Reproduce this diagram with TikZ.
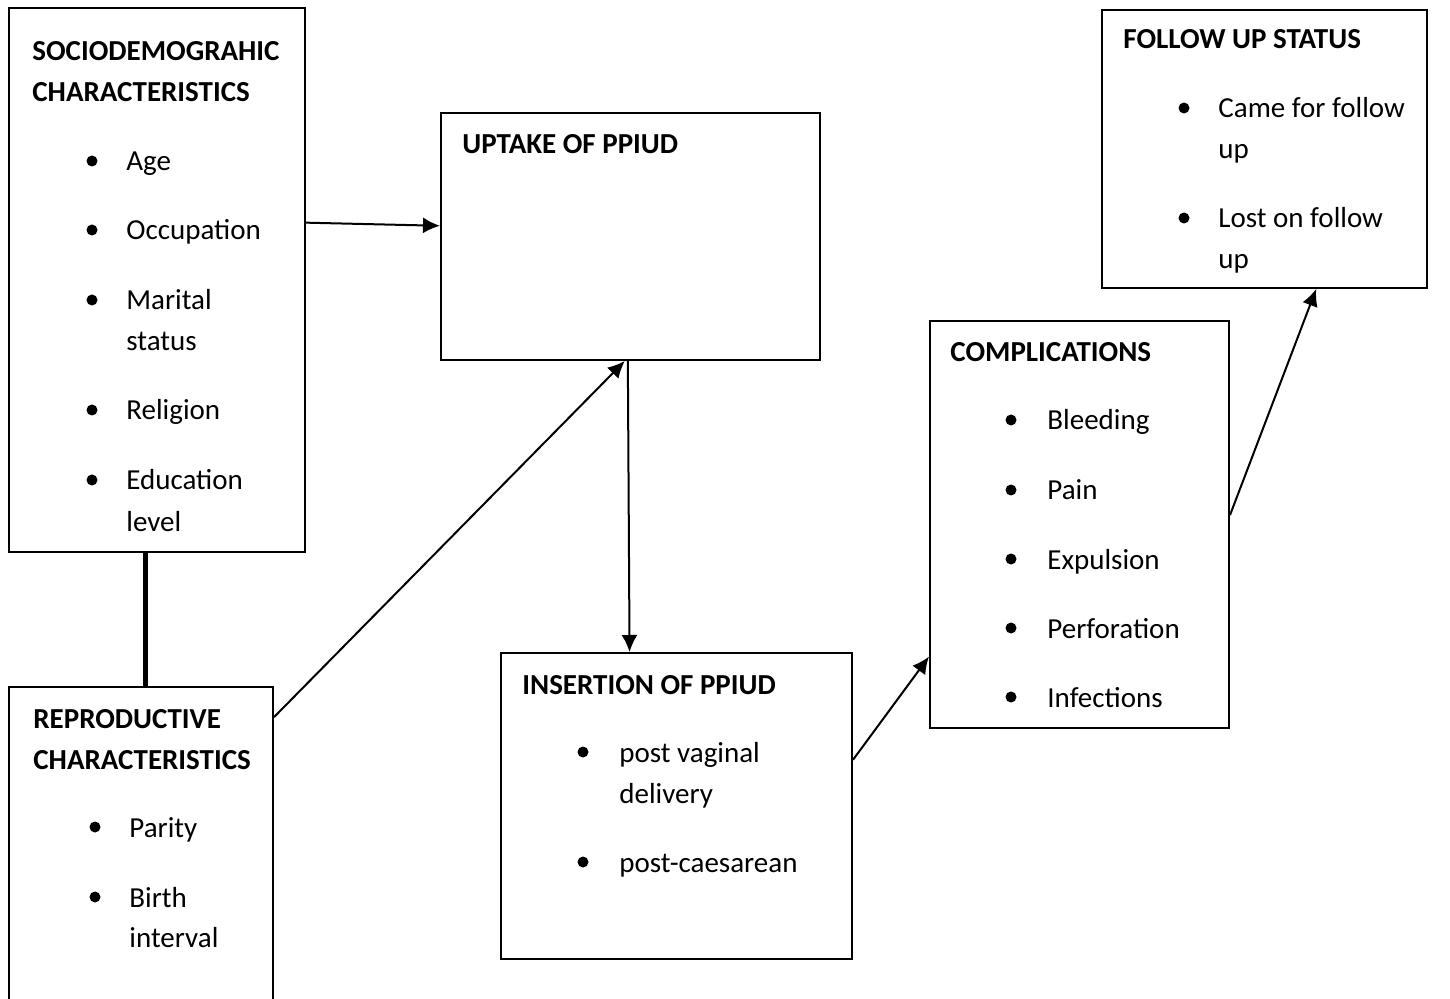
\documentclass[tikz,border=0pt]{standalone}
\usepackage{fontspec}
\setmainfont{Carlito}
\usetikzlibrary{calc,fit,arrows.meta}
% one unit = one pixel of the reference
\tikzset{x=0.5pt,y=-0.5pt,
  box/.style={draw,line width=1pt,inner sep=0pt},
  txt/.style={anchor=base west,inner sep=0pt,font=\fontsize{14.5}{20}\selectfont},
  head/.style={txt,font=\fontsize{14.5}{20}\selectfont\bfseries},
  arr/.style={line width=1pt,-{Latex[length=8.5pt,width=8pt]}},
  link/.style={line width=2.5pt}}
\def\bul(#1,#2){\fill (#1,#2) circle (5.5);}

\begin{document}
\begin{tikzpicture}
		%%%%% START %%%%%
		\useasboundingbox (0,0) rectangle (1450,999);
		\clip (0,0) rectangle (1450,999);
		
		\node[box,fit={(9,8)(305,552)}] (socio) {};
		\node[box,fit={(441,113)(820,360)}] (uptake) {};
		\node[box,fit={(1102,10)(1427,288)}] (follow) {};
		\node[box,fit={(930,321)(1229,728)}] (compl) {};
		\node[box,fit={(501,653)(852,959)}] (insert) {};
		\node[box,fit={(9,687)(273,1020)}] (repro) {};
		
		% sociodemographic
		\node[head] (socio1) at (32,61) {SOCIODEMOGRAHIC};
		\node[head] (socio2) at (32,102) {CHARACTERISTICS};
		\bul(92,161) \node[txt] (age) at (126,171) {Age};
		\bul(92,230) \node[txt] (occ) at (126,240) {Occupation};
		\bul(92,300) \node[txt] (mar1) at (126,310) {Marital};
		\node[txt] (mar2) at (126,351) {status};
		\bul(92,410) \node[txt] (rel) at (126,420) {Religion};
		\bul(92,480) \node[txt] (edu1) at (126,490) {Education};
		\node[txt] (edu2) at (126,531) {level};
		
		% uptake
		\node[head] (uptake1) at (462,154) {UPTAKE OF PPIUD};
		
		% follow up
		\node[head] (follow1) at (1123,49) {FOLLOW UP STATUS};
		\bul(1184,108) \node[txt] (came1) at (1218,118) {Came for follow};
		\node[txt] (came2) at (1218,159) {up};
		\bul(1184,218) \node[txt] (lost1) at (1218,228) {Lost on follow};
		\node[txt] (lost2) at (1218,269) {up};
		
		% complications
		\node[head] (compl1) at (950,362) {COMPLICATIONS};
		\bul(1011,420) \node[txt] (bleed) at (1047,430) {Bleeding};
		\bul(1011,490) \node[txt] (pain) at (1047,500) {Pain};
		\bul(1011,559) \node[txt] (expul) at (1047,569) {Expulsion};
		\bul(1011,628) \node[txt] (perf) at (1047,638) {Perforation};
		\bul(1011,697) \node[txt] (infec) at (1047,707) {Infections};
		
		% insertion
		\node[head] (insert1) at (522,694) {INSERTION OF PPIUD};
		\bul(583,752) \node[txt] (vag1) at (619,762) {post vaginal};
		\node[txt] (vag2) at (619,803) {delivery};
		\bul(583,862) \node[txt] (caes) at (619,872) {post-caesarean};
		
		% reproductive
		\node[head] (repro1) at (33,728) {REPRODUCTIVE};
		\node[head] (repro2) at (33,769) {CHARACTERISTICS};
		\bul(95,827) \node[txt] (par) at (129,837) {Parity};
		\bul(95,897) \node[txt] (birth1) at (129,907) {Birth};
		\node[txt] (birth2) at (129,947) {interval};
		
		% connectors
		\coordinate (s1) at ($(socio.south west)!0.463!(socio.south east)$);
		\draw[link] (s1) -- (s1 |- repro.north);
		\draw[arr] ($(socio.north east)!0.395!(socio.south east)$) -- ($(uptake.north west)!0.457!(uptake.south west)$);
		\draw[arr] ($(repro.north east)!0.093!(repro.south east)$) -- ($(uptake.south west)!0.485!(uptake.south east)$);
		\draw[arr] ($(uptake.south west)!0.493!(uptake.south east)$) -- ($(insert.north west)!0.367!(insert.north east)$);
		\draw[arr] ($(insert.north east)!0.35!(insert.south east)$) -- ($(compl.north west)!0.823!(compl.south west)$);
		\draw[arr] ($(compl.north east)!0.477!(compl.south east)$) -- ($(follow.south west)!0.658!(follow.south east)$);
		
		%%%%% END %%%%%
	\end{tikzpicture}
\end{document}
